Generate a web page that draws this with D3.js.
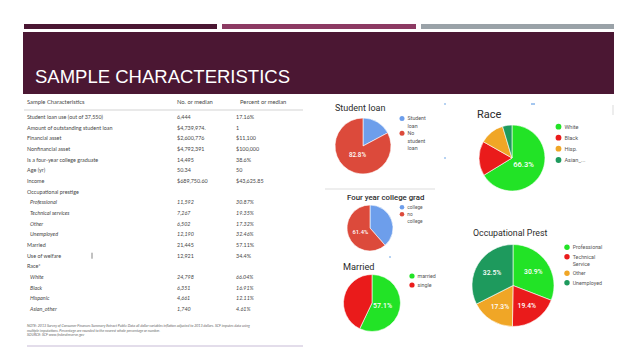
<!DOCTYPE html>
<html><head><meta charset="utf-8">
<script src="https://cdn.jsdelivr.net/npm/d3@7"></script>
<style>html,body{margin:0;padding:0;background:#fff;}svg{display:block;}</style>
</head><body>
<svg id="c" width="638" height="359"></svg>
<script>
// ---------- DATA ----------
const slideTitle = "SAMPLE CHARACTERISTICS";
const tableHeaders = ["Sample Characteristics", "No. or median", "Percent or median"];
const tableLabels = ["Student loan use (out of 37,550)", "Amount of outstanding student loan", "Financial asset",
  "Nonfinancial asset", "Is a four-year college graduate", "Age (yr)", "Income", "Occupational prestige",
  "Professional", "Technical services", "Other", "Unemployed", "Married", "Use of welfare", "Race*",
  "White", "Black", "Hispanic", "Asian_other"];
const tableCounts = ["6,444", "$4,739,974.", "$2,600,776", "$4,792,391", "14,495", "50.34", "$689,750.60", "",
  "11,592", "7,267", "6,502", "12,190", "21,445", "12,921", "", "24,798", "6,351", "4,661", "1,740"];
const tablePercents = ["17.16%", "1", "$11,100", "$100,000", "38.6%", "50", "$43,625.85", "",
  "30.87%", "19.35%", "17.32%", "32.46%", "57.11%", "34.4%", "", "66.04%", "16.91%", "12.11%", "4.61%"];
const tableItalic = [0,0,0,0,0,0,0,0,1,1,1,1,0,0,0,1,1,1,1];
const tableNotes = [
  "NOTE: 2013 Survey of Consumer Finances Summary Extract Public Data all dollar variables inflation adjusted to 2013 dollars. SCF imputes data using",
  "multiple imputations. Percentage are rounded to the nearest whole percentage or number.",
  "SOURCE: SCF www.federalreserve.gov"];

const loanTitle = "Student loan";
const loanCategories = [["Student", "loan"], ["No", "student", "loan"]];
const loanValues = [17.2, 82.8];

const collegeTitle = "Four year college grad";
const collegeCategories = [["college"], ["no", "college"]];
const collegeValues = [38.6, 61.4];

const marriedTitle = "Married";
const marriedCategories = [["married"], ["single"]];
const marriedValues = [57.1, 42.9];

const raceTitle = "Race";
const raceCategories = [["White"], ["Black"], ["Hisp."], ["Asian_..."]];
const raceValues = [66.04, 16.91, 12.11, 4.61];

const occTitle = "Occupational Prest";
const occCategories = [["Professional"], ["Technical", "Service"], ["Other"], ["Unemployed"]];
const occValues = [30.87, 19.35, 17.32, 32.46];

// ---------- DRAW ----------
const svg = d3.select("#c");

// header bars
const topBars = [{x0: 24, x1: 217, c: "#4a1632"}, {x0: 222, x1: 416, c: "#8c3a63"}, {x0: 421, x1: 614, c: "#9aa2a8"}];
svg.selectAll("rect.tb").data(topBars).join("rect")
  .attr("x", d => d.x0).attr("y", 24).attr("width", d => d.x1 - d.x0).attr("height", 5).attr("fill", d => d.c);
svg.append("rect").attr("x", 23).attr("y", 32).attr("width", 591).attr("height", 62).attr("fill", "#4b1733");
svg.append("text").attr("x", 35).attr("y", 83).attr("fill", "#fff")
  .attr("font-family", "Liberation Sans, Arial, sans-serif").attr("font-size", 17.5)
  .attr("textLength", 255).attr("lengthAdjust", "spacingAndGlyphs").text(slideTitle);

// table
const tFont = "Lato, 'Open Sans', sans-serif";
const colX = [27, 177, 236];
const rowY = d3.scaleLinear().domain([0, 1]).range([119, 119 + 10.67]);
const tg = svg.append("g").attr("font-family", tFont).attr("fill", "#474747");
tg.selectAll("text.h").data(tableHeaders).join("text")
  .attr("x", (d, i) => i === 0 ? colX[0] : (i === 1 ? 177 : 240)).attr("y", 104)
  .attr("font-size", 5.8).text(d => d);
tg.append("line").attr("x1", 24).attr("x2", 303).attr("y1", 110).attr("y2", 110)
  .attr("stroke", "#c8c8c8").attr("stroke-width", 0.8);
const rows = tg.selectAll("g.r").data(tableLabels).join("g")
  .attr("transform", (d, i) => `translate(0,${rowY(i)})`)
  .attr("font-size", 5.4).attr("font-style", (d, i) => tableItalic[i] ? "italic" : "normal");
rows.append("text").attr("x", (d, i) => tableItalic[i] ? 30 : colX[0]).text(d => d);
rows.append("text").attr("x", colX[1]).text((d, i) => tableCounts[i]);
rows.append("text").attr("x", colX[2]).text((d, i) => tablePercents[i]);
tg.append("line").attr("x1", 92).attr("x2", 92).attr("y1", rowY(13) - 5).attr("y2", rowY(13) + 1)
  .attr("stroke", "#666").attr("stroke-width", 0.8);
tg.selectAll("text.n").data(tableNotes).join("text")
  .attr("x", 27).attr("y", (d, i) => 327 + i * 4.7).attr("font-size", 3.6).attr("font-style", "italic")
  .attr("fill", "#666").text(d => d);
tg.append("line").attr("x1", 27).attr("x2", 303).attr("y1", 346).attr("y2", 346)
  .attr("stroke", "#b9a9cc").attr("stroke-width", 0.8);

// separators / artifacts
svg.append("line").attr("x1", 325).attr("x2", 435).attr("y1", 189).attr("y2", 189).attr("stroke", "#ddd").attr("stroke-width", 1);
svg.append("line").attr("x1", 613).attr("x2", 613).attr("y1", 105).attr("y2", 115).attr("stroke", "#ccc").attr("stroke-width", 0.7);
svg.append("line").attr("x1", 531).attr("x2", 535).attr("y1", 104).attr("y2", 104).attr("stroke", "#4a8fe0").attr("stroke-width", 1);
svg.append("line").attr("x1", 445).attr("x2", 445).attr("y1", 103).attr("y2", 105).attr("stroke", "#4a8fe0").attr("stroke-width", 0.8);
svg.append("line").attr("x1", 445).attr("x2", 445).attr("y1", 157).attr("y2", 159).attr("stroke", "#4a8fe0").attr("stroke-width", 0.8);
svg.append("line").attr("x1", 389).attr("x2", 391).attr("y1", 257).attr("y2", 257).attr("stroke", "#4a8fe0").attr("stroke-width", 0.8);

const gFont = "Roboto, 'Noto Sans', sans-serif";
function drawPie(cfg) {
  const g = svg.append("g");
  g.append("text").attr("x", cfg.tx).attr("y", cfg.ty).attr("font-family", gFont)
    .attr("font-size", cfg.tsize).attr("font-weight", cfg.tw).attr("fill", "#2b2b2b").text(cfg.title);
  const total = d3.sum(cfg.values);
  const pie = d3.pie().sort(null).value(d => d)(cfg.values);
  const arc = d3.arc().innerRadius(0).outerRadius(cfg.r);
  const lab = d3.arc().innerRadius(cfg.r * cfg.lf).outerRadius(cfg.r * cfg.lf);
  const pg = g.append("g").attr("transform", `translate(${cfg.cx},${cfg.cy})`);
  pg.selectAll("path").data(pie).join("path").attr("d", arc)
    .attr("fill", (d, i) => cfg.colors[i]).attr("stroke", "#fff").attr("stroke-width", 0.6);
  pg.selectAll("text").data(pie.filter((d, i) => cfg.show[i])).join("text")
    .attr("transform", d => `translate(${lab.centroid(d)})`)
    .attr("text-anchor", "middle").attr("dy", "0.35em")
    .attr("font-family", gFont).attr("font-size", cfg.lsize).attr("font-weight", 500).attr("fill", "#fff")
    .text(d => (d.value / total * 100).toFixed(1) + "%");
  const lg = g.append("g").attr("font-family", gFont).attr("font-size", cfg.legSize).attr("fill", "#555");
  cfg.cats.forEach((lines, i) => {
    const y = cfg.ly[i];
    lg.append("circle").attr("cx", cfg.lx).attr("cy", y).attr("r", cfg.dr).attr("fill", cfg.colors[i]);
    lines.forEach((t, j) => {
      lg.append("text").attr("x", cfg.lx + cfg.dr + 3).attr("y", y + j * cfg.lh).attr("dy", "0.35em").text(t);
    });
  });
}

const BLUE = "#6d9eeb", RED1 = "#dc4a3b", GREEN = "#22e326", RED = "#ea1b1b", ORANGE = "#f0a626", DKGREEN = "#1e9a5d";

drawPie({title: loanTitle, tx: 335, ty: 110.5, tsize: 9, tw: 400, cx: 363, cy: 146, r: 28, lf: 0.38,
  values: loanValues, colors: [BLUE, RED1], show: [0, 1], lsize: 6.3,
  cats: loanCategories, lx: 402, ly: [118.5, 133.3], lh: 7.4, dr: 2.5, legSize: 5.3});
drawPie({title: collegeTitle, tx: 347, ty: 199.8, tsize: 7.8, tw: 500, cx: 370, cy: 228, r: 23, lf: 0.45,
  values: collegeValues, colors: [BLUE, RED1], show: [0, 1], lsize: 5.8,
  cats: collegeCategories, lx: 402, ly: [207.3, 214.3], lh: 6.8, dr: 2.3, legSize: 4.8});
drawPie({title: marriedTitle, tx: 343, ty: 269.5, tsize: 9.2, tw: 400, cx: 372, cy: 303, r: 28.5, lf: 0.38,
  values: marriedValues, colors: [GREEN, RED], show: [1, 0], lsize: 7,
  cats: marriedCategories, lx: 412, ly: [276, 285], lh: 7, dr: 2.6, legSize: 5.3});
drawPie({title: raceTitle, tx: 477, ty: 118, tsize: 11, tw: 400, cx: 512, cy: 158, r: 33, lf: 0.4,
  values: raceValues, colors: [GREEN, RED, ORANGE, DKGREEN], show: [1, 0, 0, 0], lsize: 7.6,
  cats: raceCategories, lx: 558.5, ly: [126.7, 137.7, 148.7, 160], lh: 7, dr: 2.9, legSize: 5.6});
drawPie({title: occTitle, tx: 473, ty: 235.5, tsize: 8.8, tw: 400, cx: 513, cy: 285.5, r: 41, lf: 0.6,
  values: occValues, colors: [GREEN, RED, ORANGE, DKGREEN], show: [1, 1, 1, 1], lsize: 6.8,
  cats: occCategories, lx: 567, ly: [247.3, 256.7, 273.3, 282.7], lh: 7.3, dr: 2.7, legSize: 5.3});
</script>
</body></html>
